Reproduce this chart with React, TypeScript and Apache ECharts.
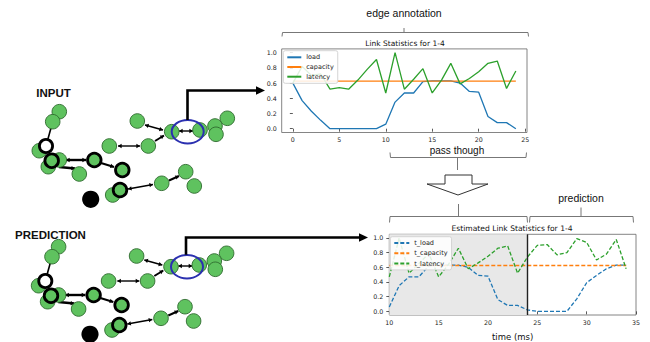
import React, { useEffect, useRef } from "react";
import * as echarts from "echarts";

// ---- chart data ----
const topTime = [0, 1, 2, 3, 4, 5, 6, 7, 8, 9, 10, 11, 12, 13, 14, 15, 16, 17, 18, 19, 20, 21, 22, 23, 24];
const load = [0.6, 0.37, 0.23, 0.11, 0, 0, 0, 0, 0, 0, 0.06, 0.35, 0.47, 0.47, 0.62, 0.63, 0.63, 0.63, 0.6, 0.49, 0.48, 0.16, 0.08, 0.08, 0.0];
const capacity = [0.625, 0.625, 0.625, 0.625, 0.625, 0.625, 0.625, 0.625, 0.625, 0.625, 0.625, 0.625, 0.625, 0.625, 0.625, 0.625, 0.625, 0.625, 0.625, 0.625, 0.625, 0.625, 0.625, 0.625, 0.625];
const latency = [0.6, 0.82, 0.7, 0.72, 0.52, 0.54, 0.52, 0.64, 0.78, 0.91, 0.47, 1.0, 0.52, 0.65, 0.79, 0.47, 0.64, 0.86, 0.59, 0.66, 0.75, 0.86, 0.89, 0.53, 0.76];

const estTime = [10, 11, 12, 13, 14, 15, 16, 17, 18, 19, 20, 21, 22, 23, 24, 25, 26, 27, 28, 29, 30, 31, 32, 33, 34];
const tLoad = [0.06, 0.35, 0.47, 0.47, 0.62, 0.63, 0.63, 0.63, 0.6, 0.49, 0.48, 0.16, 0.08, 0.08, 0.02, 0.0, 0.0, 0.0, 0.0, 0.17, 0.39, 0.49, 0.58, 0.63, 0.63];
const tCapacity = [0.625, 0.625, 0.625, 0.625, 0.625, 0.625, 0.625, 0.625, 0.625, 0.625, 0.625, 0.625, 0.625, 0.625, 0.625, 0.625, 0.625, 0.625, 0.625, 0.625, 0.625, 0.625, 0.625, 0.625, 0.625];
const tLatency = [0.47, 1.0, 0.52, 0.65, 0.79, 0.47, 0.64, 0.86, 0.58, 0.66, 0.75, 0.86, 0.89, 0.52, 0.74, 0.9, 0.91, 0.77, 0.8, 0.99, 0.94, 0.7, 0.78, 0.98, 0.58];

const topXTicks = [0, 5, 10, 15, 20, 25];
const yTicks = [0, 0.2, 0.4, 0.6, 0.8, 1.0];
const inputStart = 10;
const inputEnd = 24;

const topNames = ["load", "capacity", "latency"];
const estNames = ["t_load", "t_capacity", "t_latency"];

// ---- styles ----
const BLUE = "#1f77b4";
const ORANGE = "#ff7f0e";
const GREENL = "#2ca02c";
const NODE = "#5fc25f";
const TICKFONT = "DejaVu Sans";
const ANNFONT = "Liberation Sans";

// ---- diagram geometry (graph drawing, not data) ----
type Node = [number, number, string];
const graphNodes: Node[] = [
  [39.3, 150.7, "g"],
  [59.3, 111.7, "g"],
  [52.7, 121.7, "g"],
  [46, 146, "w"],
  [48.3, 166.7, "g"],
  [59.3, 160, "g"],
  [51.7, 160.7, "r"],
  [79.3, 174, "g"],
  [94.3, 160, "r"],
  [122.3, 170, "r"],
  [109.3, 146, "g"],
  [148.3, 146, "g"],
  [137.3, 121, "g"],
  [171.7, 131.7, "g"],
  [227.3, 118.3, "g"],
  [215, 126, "g"],
  [216, 134.3, "g"],
  [200, 130, "g"],
  [161.7, 183.3, "g"],
  [185.7, 171.7, "g"],
  [194.3, 186, "g"],
  [112.7, 195, "g"],
  [120, 190, "r"],
  [90.7, 199.3, "b"],
];
// x1,y1,x2,y2,width,bothHeads
const graphEdges: [number, number, number, number, number, boolean][] = [
  [66, 160, 86, 160, 2.4, true],
  [59, 167, 75, 168.5, 2.4, false],
  [101, 163, 114, 167, 2.2, false],
  [118, 146, 140, 146, 1.4, true],
  [145, 125, 163, 130, 1.4, true],
  [155, 141, 164, 135.5, 2, false],
  [179, 131, 193, 131, 1.4, true],
  [128, 189, 153, 184.5, 1.4, true],
  [169, 180.5, 179, 176, 2, false],
];

function nodeEl(n: Node) {
  const [x, y, k] = n;
  if (k === "w") return { type: "circle", shape: { cx: x, cy: y, r: 6.6 }, style: { fill: "#fff", stroke: "#000", lineWidth: 2.8 } };
  if (k === "r") return { type: "circle", shape: { cx: x, cy: y, r: 6.8 }, style: { fill: NODE, stroke: "#000", lineWidth: 2.8 } };
  if (k === "b") return { type: "circle", shape: { cx: x, cy: y, r: 8.6 }, style: { fill: "#000" } };
  return { type: "circle", shape: { cx: x, cy: y, r: 7.3 }, style: { fill: NODE, stroke: "#2e6a2e", lineWidth: 0.9 } };
}

function arrowEls(x1: number, y1: number, x2: number, y2: number, w: number, both: boolean) {
  const dx = x2 - x1, dy = y2 - y1;
  const L = Math.hypot(dx, dy);
  const ux = dx / L, uy = dy / L, px = -uy, py = ux;
  const h = 3.6, hw = 2.2;
  const head = (tx: number, ty: number, s: number) => ({
    type: "polygon",
    shape: {
      points: [
        [tx, ty],
        [tx - s * ux * h + px * hw, ty - s * uy * h + py * hw],
        [tx - s * ux * h - px * hw, ty - s * uy * h - py * hw],
      ],
    },
    style: { fill: "#000" },
  });
  const els: any[] = [
    { type: "line", shape: { x1, y1, x2, y2 }, style: { stroke: "#000", lineWidth: w } },
    head(x2, y2, 1),
  ];
  if (both) els.push(head(x1, y1, -1));
  return els;
}

function graphGroup(dx: number, dy: number) {
  const children: any[] = [];
  children.push({ type: "line", shape: { x1: 52.7, y1: 121.7, x2: 46, y2: 146 }, style: { stroke: "#000", lineWidth: 1.6 } });
  graphEdges.forEach((e) => children.push(...arrowEls(e[0], e[1], e[2], e[3], e[4], e[5])));
  graphNodes.forEach((n) => children.push(nodeEl(n)));
  children.push({ type: "ellipse", shape: { cx: 187.7, cy: 131.7, rx: 16, ry: 11.8 }, style: { fill: "none", stroke: "#2b30b0", lineWidth: 2 } });
  return { type: "group", x: dx, y: dy, children };
}

function txt(text: string, x: number, y: number, font: string, extra: any = {}) {
  return {
    type: "text",
    style: {
      text, x, y, font, fill: "#111",
      align: "center", verticalAlign: "middle",
      textAlign: "center", textVerticalAlign: "middle",
      ...extra,
    },
  };
}

function pl(points: number[][], stroke = "#777", lineWidth = 1) {
  return { type: "polyline", shape: { points }, style: { stroke, lineWidth, fill: "none" } };
}

function buildOption() {
  const axisLabelStyle = { fontSize: 6.3, color: "#222", fontFamily: TICKFONT };
  const tickStyle = { length: 3, lineStyle: { color: "#333", width: 0.8 } };
  const legendCommon = {
    orient: "vertical",
    itemHeight: 8,
    backgroundColor: "rgba(255,255,255,0.85)",
    borderColor: "#d4d4d4",
    borderWidth: 1,
    borderRadius: 2,
    itemTextGap: 4,
    itemStyle: { opacity: 0 },
    textStyle: { fontSize: 6.5, color: "#222", fontFamily: TICKFONT, lineHeight: 8 },
  };
  const lineSeries = (name: string, xs: number[], ys: number[], color: string, xi: number, dashed: boolean, extra: any = {}) => ({
    type: "line",
    name,
    xAxisIndex: xi,
    yAxisIndex: xi,
    data: xs.map((x, i) => [x, ys[i]]),
    symbol: "none",
    lineStyle: { color, width: 1.3, type: dashed ? [4, 2] : "solid" },
    itemStyle: { color },
    z: 2,
    ...extra,
  });

  return {
    animation: false,
    backgroundColor: "#fff",
    grid: [
      { left: 281.7, top: 48.9, width: 245.3, height: 83.6, show: true, borderColor: "#666", borderWidth: 0.8, backgroundColor: "transparent" },
      { left: 389.3, top: 234.3, width: 246.7, height: 83.4, show: true, borderColor: "#666", borderWidth: 0.8, backgroundColor: "transparent" },
    ],
    xAxis: [
      {
        gridIndex: 0, type: "value", min: -1.2, max: 25.2,
        axisLine: { show: false }, splitLine: { show: false },
        axisTick: { ...tickStyle, customValues: topXTicks },
        axisLabel: { ...axisLabelStyle, margin: 4, customValues: topXTicks },
      },
      {
        gridIndex: 1, type: "value", min: 10, max: 35, interval: 5,
        axisLine: { show: false }, splitLine: { show: false },
        axisTick: tickStyle,
        axisLabel: { ...axisLabelStyle, margin: 4 },
        name: "time (ms)", nameLocation: "middle", nameGap: 17,
        nameTextStyle: { fontSize: 8.5, color: "#111", fontFamily: TICKFONT },
      },
    ],
    yAxis: [
      {
        gridIndex: 0, type: "value", min: -0.05, max: 1.05,
        axisLine: { show: false }, splitLine: { show: false },
        axisTick: { ...tickStyle, customValues: yTicks },
        axisLabel: { ...axisLabelStyle, margin: 5, customValues: yTicks, formatter: (v: number) => v.toFixed(1) },
      },
      {
        gridIndex: 1, type: "value", min: -0.05, max: 1.05,
        axisLine: { show: false }, splitLine: { show: false },
        axisTick: { ...tickStyle, customValues: yTicks },
        axisLabel: { ...axisLabelStyle, margin: 6, customValues: yTicks, formatter: (v: number) => v.toFixed(1) },
      },
    ],
    legend: [
      { ...legendCommon, data: topNames, left: 283.3, top: 50.7, itemWidth: 14, itemGap: 1.7, padding: [2.6, 4, 2.6, 3] },
      { ...legendCommon, data: estNames, left: 390.3, top: 236.7, itemWidth: 15, itemGap: 2.3, padding: [2.3, 4, 2.3, 3] },
    ],
    series: [
      lineSeries(topNames[0], topTime, load, BLUE, 0, false),
      lineSeries(topNames[1], topTime, capacity, ORANGE, 0, false),
      lineSeries(topNames[2], topTime, latency, GREENL, 0, false),
      lineSeries(estNames[0], estTime, tLoad, BLUE, 1, true, {
        markArea: {
          silent: true,
          itemStyle: { color: "#e8e8e8" },
          data: [[{ xAxis: inputStart }, { xAxis: inputEnd }]],
        },
        markLine: {
          silent: true,
          symbol: ["none", "none"],
          label: { show: false },
          lineStyle: { color: "#222", width: 1.4, type: "solid" },
          data: [{ xAxis: inputEnd }],
        },
      }),
      lineSeries(estNames[1], estTime, tCapacity, ORANGE, 1, true),
      lineSeries(estNames[2], estTime, tLatency, GREENL, 1, true),
    ],
    graphic: [
      // chart titles
      txt("Link Statistics for 1-4", 405, 43, `7.5px '${TICKFONT}'`),
      txt("Estimated Link Statistics for 1-4", 512, 228.5, `7.6px '${TICKFONT}'`),
      // annotations
      txt("edge annotation", 404, 13, `10.5px '${ANNFONT}'`),
      pl([[282, 36.5], [282.5, 32.5], [528, 32.5], [528.5, 36.5]]),
      pl([[404, 32.5], [404, 28]]),
      txt("pass though", 457, 150.5, `10px '${ANNFONT}'`),
      pl([[390, 152.5], [390.5, 157.5], [526, 157.5], [526.5, 152.5]]),
      pl([[457.5, 157.5], [457.5, 170]]),
      {
        type: "polygon",
        shape: { points: [[445, 175], [472, 175], [472, 184], [488, 184], [458, 195], [427, 184], [445, 184]] },
        style: { fill: "#fff", stroke: "#333", lineWidth: 1 },
      },
      pl([[389.5, 222.5], [390, 216.5], [527, 216.5], [527.5, 222.5]]),
      pl([[458.5, 216.5], [458.5, 204]]),
      pl([[529.5, 222.5], [530, 216.5], [633, 216.5], [633.5, 222.5]]),
      pl([[581, 216.5], [581, 207.5]]),
      txt("prediction", 581, 198, `10.5px '${ANNFONT}'`),
      // section labels
      txt("INPUT", 53.5, 93, `bold 11.5px '${ANNFONT}'`),
      txt("PREDICTION", 15, 235, `bold 11.5px '${ANNFONT}'`, { align: "left", textAlign: "left" }),
      // graphs
      graphGroup(0, 0),
      graphGroup(-0.7, 135),
      // big arrows
      pl([[187.5, 120], [187.5, 90.5], [257, 90.5]], "#000", 2.6),
      { type: "polygon", shape: { points: [[256, 86.3], [265, 90.5], [256, 94.7]] }, style: { fill: "#000" } },
      pl([[186, 254.8], [186, 237.5], [360, 237.5]], "#000", 2.6),
      { type: "polygon", shape: { points: [[359, 233.3], [368, 237.5], [359, 241.7]] }, style: { fill: "#000" } },
    ],
  };
}

export default function App() {
  const ref = useRef<HTMLDivElement>(null);
  useEffect(() => {
    if (!ref.current) return;
    const chart = echarts.init(ref.current, null, { renderer: "svg" });
    chart.setOption(buildOption() as any);
    return () => chart.dispose();
  }, []);
  return (
    <div
      ref={ref}
      style={{ position: "absolute", left: 0, top: 0, width: 650, height: 342, background: "#fff" }}
    />
  );
}
